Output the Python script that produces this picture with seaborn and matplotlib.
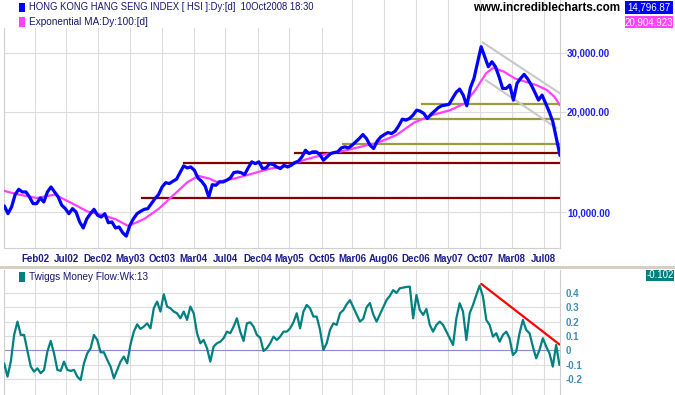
import numpy as np
import pandas as pd
import matplotlib
matplotlib.use("Agg")
import matplotlib.pyplot as plt
import seaborn as sns
from matplotlib.patches import Rectangle
from matplotlib.ticker import NullLocator, NullFormatter

# ---------------- data ----------------
price_first_year, price_last_year = 2001.775, 2008.785
price = [
    10440, 9900, 10370, 11290, 11710, 11500, 11500, 11110, 10610, 10610,
    11030, 10730, 11500, 11900, 11500, 11110, 10490, 10250, 9900, 10250,
    10010, 9350, 8970, 9560, 9900, 10200, 9790, 9670, 9900, 9300,
    9350, 8970, 9030, 8680, 8480, 9130, 9560, 9900, 10060, 10200,
    10250, 10610, 10980, 11290, 11900, 12260, 12180, 12380, 12550, 13140,
    13760, 13570, 13660, 13350, 12660, 12380, 11980, 11110, 12090, 12040,
    12320, 12320, 12460, 12660, 13140, 13200, 13140, 12960, 13570, 14150,
    13980, 14150, 13510, 13570, 13980, 13890, 13660, 13510, 13820, 13660,
    13820, 14080, 14210, 14640, 15330, 14980, 15160, 15160, 14880, 14310,
    14640, 14980, 15090, 15160, 15580, 15690, 15580, 15870, 16240, 16620,
    17080, 16620, 15870, 15510, 16320, 16810, 17080, 17320, 17200, 17480,
    18140, 18990, 18860, 19080, 19530, 20210, 20070, 19750, 19080, 19620,
    20070, 20540, 20830, 20920, 21020, 21910, 22830, 23370, 22420, 20830,
    23580, 25150, 28090, 31300, 29210, 27260, 28220, 27260, 25440, 23470,
    23470, 24020, 21660, 24300, 25150, 25860, 25040, 24020, 22830, 21660,
    22420, 21160, 19980, 18650, 16620, 14797,
]

ma_year = [
    2001.775, 2001.957, 2002.184, 2002.410, 2002.637, 2002.818, 2003.000,
    2003.181, 2003.340, 2003.544, 2003.725, 2003.907, 2004.088, 2004.224,
    2004.360, 2004.451, 2004.678, 2004.905, 2005.131, 2005.358, 2005.585,
    2005.812, 2006.038, 2006.265, 2006.492, 2006.719, 2006.945, 2007.172,
    2007.399, 2007.580, 2007.716, 2007.852, 2007.943, 2008.079, 2008.216,
    2008.351, 2008.487, 2008.623, 2008.714, 2008.785,
]
ma_value = [
    11580, 11290, 11030, 11290, 10610, 10060, 9830,
    9520, 9090, 9560, 10250, 11240, 12320, 12840,
    12610, 12320, 12610, 13050, 13510, 13760, 14410,
    14880, 15230, 15690, 16170, 17010, 18560, 19530,
    20210, 21160, 23200, 26040, 27080, 26340, 25150,
    24580, 24020, 23200, 22160, 20905,
]

mf_first_year, mf_last_year = 2001.772, 2008.778
money_flow = [
    -0.091, -0.184, -0.079, 0.107, 0.200, 0.107, 0.107, -0.005, -0.114, -0.149,
    -0.126, -0.160, -0.137, -0.009, 0.065, -0.021, -0.137, -0.144, -0.079, -0.137,
    -0.144, -0.137, -0.184, -0.207, -0.091, -0.021, 0.014, 0.107, 0.072, -0.014,
    -0.014, -0.067, -0.114, -0.195, -0.137, -0.079, -0.044, -0.091, 0.042, 0.130,
    0.181, 0.149, 0.165, 0.188, 0.153, 0.293, 0.340, 0.270, 0.391, 0.305,
    0.293, 0.270, 0.258, 0.223, 0.270, 0.212, 0.305, 0.258, 0.119, 0.049,
    0.072, 0.014, -0.079, 0.026, 0.049, 0.060, 0.084, 0.130, 0.119, 0.165,
    0.223, 0.130, 0.065, 0.188, 0.195, 0.165, 0.107, 0.088, -0.005, 0.014,
    0.049, 0.095, 0.072, 0.095, 0.130, 0.130, 0.153, 0.195, 0.258, 0.153,
    0.270, 0.316, 0.293, 0.235, 0.235, 0.142, 0.002, 0.049, 0.142, 0.188,
    0.177, 0.258,
    0.28, 0.32, 0.35, 0.30, 0.25, 0.20, 0.22, 0.30, 0.33, 0.25,
    0.20, 0.25, 0.30, 0.35, 0.38, 0.42, 0.40,
    0.433, 0.437, 0.442, 0.444, 0.223, 0.386, 0.281, 0.247, 0.288, 0.177,
    0.130, 0.177, 0.200, 0.177, 0.130, 0.084, 0.037, 0.223, 0.328, 0.270,
    0.072, 0.258, 0.316, 0.386, 0.451, 0.374, 0.212, 0.177, 0.095, 0.119,
    0.060, 0.107, 0.130, 0.084, -0.033, -0.009, 0.119, 0.212, 0.142, 0.119,
    0.026, -0.056, 0.002, 0.084, 0.026, -0.021, -0.114, 0.037, -0.102,
]

tick_year = [2002.162, 2002.557, 2002.954, 2003.357, 2003.765, 2004.163,
             2004.562, 2004.973, 2005.371, 2005.779, 2006.164, 2006.566,
             2006.969, 2007.372, 2007.775, 2008.177, 2008.580]
tick_label = ["Feb02", "Jul02", "Dec02", "May03", "Oct03", "Mar04", "Jul04",
              "Dec04", "May05", "Oct05", "Mar06", "Aug06", "Dec06", "May07",
              "Oct07", "Mar08", "Jul08"]

price_ticks = [10000, 20000, 30000]
price_tick_labels = ["10,000.00", "20,000.00", "30,000.00"]
mf_ticks = [-0.2, -0.1, 0.0, 0.1, 0.2, 0.3, 0.4]
mf_tick_labels = ["-0.2", "-0.1", "0", "0.1", "0.2", "0.3", "0.4"]

support_level = [15070, 14060, 11050]
support_from = [2005.426, 2004.029, 2003.498]
resistance_level = [21090, 19060, 16040]
resistance_from = [2007.036, 2006.809, 2006.029]

channel_upper_year = [2007.807, 2008.783]
channel_upper = [32270, 22700]
channel_lower_year = [2007.846, 2008.740]
channel_lower = [24880, 17870]

mf_trend_year = [2007.792, 2008.780]
mf_trend = [0.463, 0.040]

last_price = "14,796.87"
last_ma = "20,904.923"
last_mf = "-0.102"

# ---------------- frames ----------------
price_df = pd.DataFrame({"year": np.linspace(price_first_year, price_last_year, len(price)),
                         "value": price})
ma_df = pd.DataFrame({"year": ma_year, "value": ma_value})
mf_df = pd.DataFrame({"year": np.linspace(mf_first_year, mf_last_year, len(money_flow)),
                      "value": money_flow})

# ---------------- style ----------------
sns.set_style("white")
plt.rcParams["font.family"] = ["Liberation Sans", "DejaVu Sans"]

W, H = 675, 395
def fx(px):
    return px / W
def fy(py):
    return 1 - py / H

fig = plt.figure(figsize=(W / 100, H / 100), dpi=100)
fig.patch.set_facecolor("white")

X0, X1 = 2001.77, 2008.785
GRID = "#dcdcdc"
SPINE = "#cfcfcf"
NAVY = "#161672"

ax1 = fig.add_axes([fx(4), fy(248), 556 / W, 248 / H])
ax2 = fig.add_axes([fx(4), fy(395), 556 / W, 125 / H])

# ---- upper panel ----
ax1.set_yscale("log")
ax1.set_ylim(7813, 43190)
ax1.set_xlim(X0, X1)
ax1.set_axisbelow(True)
ax1.grid(True, color=GRID, linewidth=0.8)

for lvl, x0 in zip(support_level, support_from):
    ax1.hlines(lvl, x0, X1, color="#800000", linewidth=1.6, zorder=2)
for lvl, x0 in zip(resistance_level, resistance_from):
    ax1.hlines(lvl, x0, X1, color="#9c9a3c", linewidth=1.6, zorder=2)
ax1.plot(channel_upper_year, channel_upper, color="#c8c8c8", linewidth=1.5, zorder=2)
ax1.plot(channel_lower_year, channel_lower, color="#c8c8c8", linewidth=1.5, zorder=2)

sns.lineplot(data=ma_df, x="year", y="value", ax=ax1, color="#ff40ff",
             linewidth=1.6, legend=False, zorder=3)
sns.lineplot(data=price_df, x="year", y="value", ax=ax1, color="#0000ff",
             linewidth=2.3, legend=False, zorder=4)

ax1.set_xlabel("")
ax1.set_ylabel("")
ax1.set_xticks(tick_year)
ax1.set_xticklabels(tick_label)
ax1.yaxis.tick_right()
ax1.set_yticks(price_ticks)
ax1.set_yticklabels(price_tick_labels)
ax1.yaxis.set_minor_locator(NullLocator())
ax1.yaxis.set_minor_formatter(NullFormatter())
ax1.tick_params(axis="x", length=0, pad=4, labelsize=7, labelcolor="#1c1c8c")
ax1.tick_params(axis="y", length=4.5, width=0.8, color=GRID, pad=0.5,
                labelsize=7, labelcolor="#2020e8")
for lab in ax1.get_xticklabels() + ax1.get_yticklabels():
    lab.set_fontweight("bold")
for s in ["left", "right", "bottom"]:
    ax1.spines[s].set_color(SPINE)
    ax1.spines[s].set_linewidth(0.8)
ax1.spines["top"].set_visible(False)

# ---- lower panel ----
ax2.set_ylim(-0.312, 0.560)
ax2.set_xlim(X0, X1)
ax2.set_axisbelow(True)
ax2.grid(True, color=GRID, linewidth=0.8)
ax2.axhline(0, color="#8c8cc8", linewidth=0.8, zorder=1)
sns.lineplot(data=mf_df, x="year", y="value", ax=ax2, color="#008080",
             linewidth=1.6, legend=False, zorder=3)
ax2.plot(mf_trend_year, mf_trend, color="#ff0000", linewidth=1.6, zorder=4)
ax2.set_xlabel("")
ax2.set_ylabel("")
ax2.set_xticks(tick_year)
ax2.set_xticklabels([])
ax2.yaxis.tick_right()
ax2.set_yticks(mf_ticks)
ax2.set_yticklabels(mf_tick_labels)
ax2.tick_params(axis="x", length=0)
ax2.tick_params(axis="y", length=0, pad=4, labelsize=7, labelcolor="#3d8fb5")
for lab in ax2.get_yticklabels():
    lab.set_fontweight("bold")
for s in ["left", "right"]:
    ax2.spines[s].set_color(SPINE)
    ax2.spines[s].set_linewidth(0.8)
for s in ["top", "bottom"]:
    ax2.spines[s].set_visible(False)

# ---- header pieces ----
fig.add_artist(Rectangle((0, fy(28)), fx(336), 28 / H, transform=fig.transFigure,
                         facecolor="white", edgecolor="none", zorder=1))
fig.add_artist(Rectangle((0, fy(269)), 1, 3 / H, transform=fig.transFigure,
                         facecolor="#d4d0c4", edgecolor="none", zorder=1))

def swatch(x, y0, y1, color):
    fig.add_artist(Rectangle((fx(x), fy(y1)), 6 / W, (y1 - y0) / H,
                             transform=fig.transFigure, facecolor=color,
                             edgecolor="none", zorder=5))

swatch(19, 3, 12, "#0000ff")
swatch(19, 17, 27, "#ff40ff")
swatch(19, 272, 282, "#008080")
fig.text(fx(29), fy(7.5), "HONG KONG HANG SENG INDEX [ HSI ]:Dy:[d]  10Oct2008 18:30",
         fontsize=6.85, color=NAVY, va="center", ha="left", zorder=6)
fig.text(fx(29), fy(22), "Exponential MA:Dy:100:[d]",
         fontsize=7.2, color=NAVY, va="center", ha="left", zorder=6)
fig.text(fx(29), fy(277), "Twiggs Money Flow:Wk:13",
         fontsize=7.2, color=NAVY, va="center", ha="left", zorder=6)
fig.text(fx(620), fy(8), "www.incrediblecharts.com", fontsize=8.4, fontweight="bold",
         color="black", va="center", ha="right", zorder=6)

def value_box(x0, x1, y0, y1, color, text):
    fig.add_artist(Rectangle((fx(x0), fy(y1)), (x1 - x0) / W, (y1 - y0) / H,
                             transform=fig.transFigure, facecolor=color,
                             edgecolor="none", zorder=5))
    fig.text(fx((x0 + x1) / 2), fy((y0 + y1) / 2), text, fontsize=7, color="white",
             va="center", ha="center", zorder=6)

value_box(625, 673, 1, 14, "#0000ff", last_price)
value_box(625, 673, 16.5, 28, "#ff40ff", last_ma)
value_box(646, 674, 270, 281, "#008080", last_mf)

fig.savefig("out.png", dpi=100, facecolor="white")
